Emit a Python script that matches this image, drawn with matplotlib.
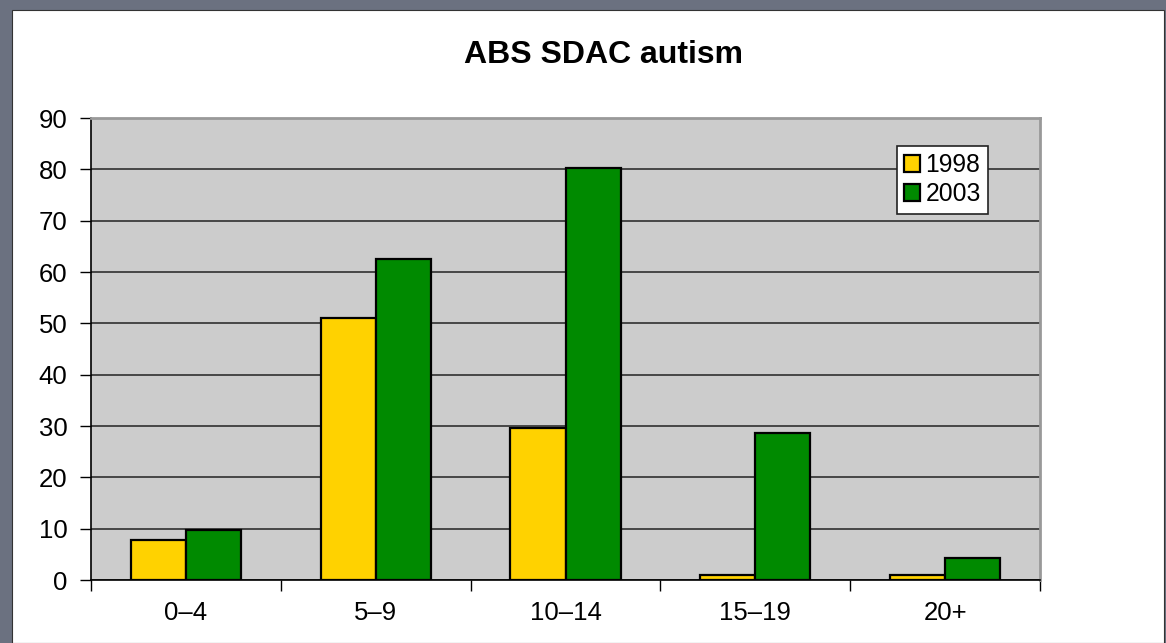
import numpy as np
import matplotlib.pyplot as plt
from matplotlib.patches import Rectangle

categories = ["0–4", "5–9", "10–14", "15–19", "20+"]
vals_1998 = [7.8, 51.0, 29.6, 1.0, 1.0]
vals_2003 = [9.7, 62.6, 80.2, 28.6, 4.3]
series_labels = ["1998", "2003"]

plt.rcParams["font.family"] = ["Liberation Sans", "DejaVu Sans"]

W, H = 1166, 643
fig = plt.figure(figsize=(W / 100, H / 100), dpi=100)
fig.patch.set_facecolor("#6b7180")

# white slide area
fig.patches.append(Rectangle((12 / W, 0), (1164 - 12) / W, (H - 10) / H,
                             transform=fig.transFigure, facecolor="white",
                             edgecolor="#333333", linewidth=0.8, zorder=-10))

ax = fig.add_axes([91 / W, 1 - 580 / H, (1040 - 91) / W, (580 - 118) / H])
ax.set_zorder(5)
ax.set_facecolor("#cccccc")

x = np.arange(len(categories))
bw = 0.29
ax.bar(x - bw / 2, vals_1998, width=bw, color="#ffd200", edgecolor="black",
       linewidth=1.6, label=series_labels[0], zorder=3)
ax.bar(x + bw / 2, vals_2003, width=bw, color="#008a00", edgecolor="black",
       linewidth=1.6, label=series_labels[1], zorder=3)

ax.set_xlim(-0.5, len(categories) - 0.5)
ax.set_ylim(0, 90)
ax.set_yticks(np.arange(0, 91, 10))
ax.yaxis.grid(True, color="#222222", linewidth=1.1, zorder=1)
ax.set_axisbelow(True)

# ticks at category boundaries, labels at centres
ax.set_xticks(np.arange(-0.5, len(categories), 1.0))
ax.set_xticklabels([])
ax.set_xticks(x, minor=True)
ax.set_xticklabels(categories, minor=True)
ax.tick_params(axis="x", which="major", length=8, width=1, color="black", direction="out")
ax.tick_params(axis="x", which="minor", length=0, pad=15, labelsize=18.5)
ax.tick_params(axis="y", length=8, width=1, color="black", pad=9, labelsize=18.5)

for s in ["left", "bottom"]:
    ax.spines[s].set_color("black")
    ax.spines[s].set_linewidth(1.2)
for s in ["top", "right"]:
    ax.spines[s].set_color("#999999")
    ax.spines[s].set_linewidth(2)

leg = ax.legend(loc="upper left", bbox_to_anchor=((897 - 91) / 949, (580 - 146) / 462),
                borderaxespad=0, fontsize=17.8, frameon=True, fancybox=False,
                framealpha=1, handlelength=0.65, handleheight=0.65, handletextpad=0.2,
                labelspacing=0.2, borderpad=0.3)
leg.get_frame().set_edgecolor("#222222")
leg.get_frame().set_linewidth(1.2)

fig.text(604 / W, 1 - 55 / H, "ABS SDAC autism", ha="center", va="center",
         fontsize=23, fontweight="bold")

fig.savefig("out.png", dpi=100, facecolor=fig.get_facecolor())
